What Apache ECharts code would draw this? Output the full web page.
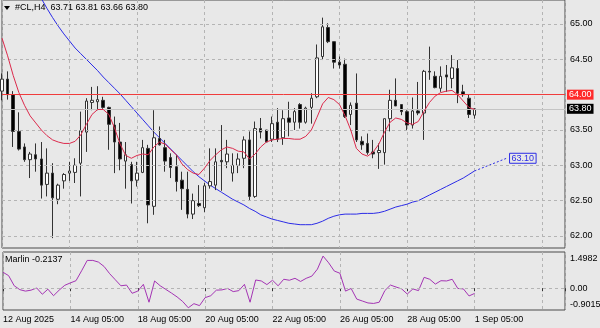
<!DOCTYPE html>
<html>
<head>
<meta charset="utf-8">
<script src="https://cdn.jsdelivr.net/npm/echarts@6/dist/echarts.min.js"></script>
<style>
  html, body { margin: 0; padding: 0; background: #e8e8e8; }
  #chart { width: 600px; height: 328px; }
</style>
</head>
<body>
<div id="chart"></div>
<script>
// #CL H4 candles, bar index 0 = 12 Aug 2025 01:00, last bar = 1 Sep 05:00
const symbol = '#CL,H4';
const opens  = [64.05,64.22,64.00,63.48,63.26,63.08,63.15,63.09,62.73,62.89,62.52,62.78,62.89,62.90,63.03,63.47,63.89,63.90,63.92,63.82,63.57,63.33,63.06,63.01,62.79,62.90,63.24,62.42,63.38,63.25,63.11,62.98,62.79,62.66,62.31,62.46,62.40,62.71,62.72,63.07,63.05,62.89,63.00,63.10,63.36,62.56,63.52,63.50,63.37,63.61,63.39,63.67,63.61,63.86,63.61,63.82,63.97,64.54,64.95,64.75,64.46,64.43,63.72,63.88,63.34,63.31,63.19,63.18,63.18,63.66,63.92,63.86,63.76,63.57,63.77,63.74,64.33,64.26,64.09,64.28,64.23,64.37,64.04,63.95,63.71];
const highs  = [64.30,64.33,64.05,63.75,63.31,63.19,63.31,63.33,63.24,63.03,62.74,62.89,63.05,63.10,63.76,63.95,64.11,64.12,63.97,63.83,63.69,63.60,63.33,63.05,63.05,63.36,63.29,63.78,63.55,63.36,63.17,63.15,62.91,62.91,62.60,62.72,62.75,63.24,63.24,63.57,63.36,63.17,63.17,63.41,63.48,63.62,63.67,63.50,63.69,63.81,63.78,63.90,63.81,63.88,63.83,64.02,64.71,65.09,65.01,64.75,64.54,64.51,63.89,64.30,63.41,63.45,63.36,63.31,63.66,64.07,64.23,63.86,63.78,63.96,64.18,64.35,64.68,64.33,64.40,64.42,64.56,64.49,64.14,64.00,63.81];
const lows   = [63.92,63.93,63.26,63.21,63.05,62.82,62.91,62.53,62.56,61.97,62.45,62.67,62.78,62.75,62.56,63.19,63.78,63.78,63.80,63.22,62.89,62.93,62.67,62.46,62.70,62.89,62.18,62.30,63.28,62.91,62.82,62.63,62.37,62.25,62.24,62.41,62.34,62.67,62.65,62.64,62.96,62.77,62.89,62.96,62.51,62.54,63.38,63.33,63.33,63.33,63.29,63.41,63.50,63.52,63.59,63.59,63.95,64.49,64.73,64.37,64.37,63.67,63.57,63.33,63.22,63.15,63.10,62.95,63.01,63.48,63.84,63.71,63.50,63.52,63.71,63.36,64.21,64.09,64.04,64.04,64.09,63.88,63.97,63.67,63.66];
const closes = [64.22,64.00,63.48,63.23,63.08,63.16,63.09,62.72,62.89,62.54,62.72,62.87,62.92,63.00,63.49,63.91,63.92,63.93,63.82,63.58,63.33,63.09,63.15,62.78,62.89,63.25,62.44,63.39,63.29,63.06,62.97,62.77,62.67,62.31,62.50,62.43,62.71,62.77,63.05,63.05,63.16,63.00,63.09,63.36,62.56,63.52,63.47,63.33,63.59,63.37,63.66,63.61,63.76,63.61,63.81,63.95,64.52,64.96,64.75,64.46,64.42,63.69,63.85,63.36,63.29,63.18,63.16,63.21,63.66,63.92,63.84,63.76,63.57,63.77,63.74,64.33,64.32,64.10,64.26,64.25,64.38,64.02,64.00,63.72,63.80];

// fast moving average (crimson), one value per bar from index 0
const fastMA = [64.80,64.55,64.27,64.03,63.85,63.70,63.60,63.50,63.42,63.36,63.33,63.31,63.31,63.34,63.43,63.58,63.72,63.79,63.79,63.72,63.53,63.30,63.14,63.10,63.14,63.16,63.15,63.26,63.33,63.30,63.22,63.15,63.02,62.94,62.89,62.87,62.96,63.07,63.15,63.22,63.26,63.24,63.20,63.19,63.09,63.16,63.26,63.33,63.36,63.37,63.38,63.38,63.37,63.37,63.41,63.50,63.68,63.87,63.96,63.93,63.86,63.70,63.50,63.24,63.16,63.13,63.19,63.30,63.47,63.61,63.67,63.65,63.60,63.58,63.62,63.76,63.89,63.98,64.03,64.05,64.06,64.00,63.91,63.82,63.79];

// slow moving average (blue), starting at bar index 6
const slowStart = 6;
const slowMA = [65.48,65.36,65.22,65.09,64.97,64.86,64.76,64.66,64.58,64.50,64.42,64.34,64.25,64.17,64.09,64.01,63.92,63.83,63.74,63.65,63.56,63.47,63.39,63.31,63.23,63.15,63.07,62.99,62.91,62.84,62.78,62.72,62.67,62.62,62.57,62.52,62.48,62.44,62.39,62.35,62.30,62.27,62.24,62.22,62.20,62.18,62.17,62.16,62.16,62.16,62.18,62.21,62.25,62.28,62.30,62.31,62.31,62.31,62.32,62.32,62.32,62.33,62.35,62.38,62.41,62.43,62.45,62.48,62.50,62.54,62.58,62.62,62.66,62.70,62.74,62.78,62.82,62.87,62.92];
// projected slow MA
const projIndex = 89.7;
const projValue = 63.10;

// Marlin oscillator, one value per bar
const marlin = [0.66,0.52,0.10,-0.06,-0.12,-0.08,0.01,-0.25,-0.04,-0.31,-0.08,0.12,0.22,0.31,0.72,1.15,1.15,1.08,0.90,0.60,0.35,0.10,0.13,-0.21,-0.12,0.16,-0.58,0.30,0.10,-0.05,-0.20,-0.36,-0.55,-0.81,-0.64,-0.72,-0.39,-0.31,-0.08,-0.07,-0.01,-0.14,-0.10,0.16,-0.58,0.34,0.30,0.15,0.33,0.10,0.37,0.33,0.41,0.28,0.41,0.50,0.79,1.33,1.05,0.71,0.62,-0.12,-0.01,-0.45,-0.53,-0.61,-0.63,-0.58,-0.10,0.13,0.05,-0.03,-0.24,-0.03,-0.10,0.45,0.37,0.17,0.31,0.30,0.37,-0.01,-0.03,-0.32,-0.2137];

// axis ticks
const priceTicks = [62.00, 62.50, 63.00, 63.50, 64.00, 64.50, 65.00];
const levelLine = 64.00;
const marlinMax = 1.4982;
const marlinMin = -0.9015;
const marlinTicks = [marlinMax, 0.00, marlinMin];
const timeTickIndex = [0, 12, 24, 36, 48, 60, 72, 84];
const timeTickText = ['12 Aug 2025', '14 Aug 05:00', '18 Aug 05:00', '20 Aug 05:00', '22 Aug 05:00', '26 Aug 05:00', '28 Aug 05:00', '1 Sep 05:00'];

const FONT = '"Liberation Sans", Arial, sans-serif';
const GRID_COLOR = '#b4b4b4';
const lastBar = opens.length - 1;
const lastClose = closes[lastBar];

const candles = opens.map((o, i) => [i, o, closes[i], lows[i], highs[i]]);
const fastData = fastMA.map((v, i) => [i, v]);
const slowData = slowMA.map((v, k) => [k + slowStart, v]);
const projData = [[lastBar, slowMA[slowMA.length - 1]], [projIndex, projValue]];
const marlinData = marlin.map((v, i) => [i, v]);
const timeLabel = {};
timeTickIndex.forEach((v, k) => { timeLabel[v] = timeTickText[k]; });

const xCommon = {
  type: 'value', min: 0, max: 100.09, interval: 12,
  axisLine: { show: false },
  splitLine: { show: true, lineStyle: { color: GRID_COLOR, type: [3, 3], width: 1 } }
};

const chart = echarts.init(document.getElementById('chart'), null, { renderer: 'canvas' });
chart.setOption({
  animation: false,
  backgroundColor: '#e8e8e8',
  grid: [
    { left: 2, top: 0, width: 563, height: 248, show: true, borderColor: '#4a4a4a', borderWidth: 1, backgroundColor: '#e8e8e8' },
    { left: 2, top: 252, width: 563, height: 58, show: true, borderColor: '#4a4a4a', borderWidth: 1, backgroundColor: '#e8e8e8' }
  ],
  xAxis: [
    Object.assign({}, xCommon, { gridIndex: 0, axisTick: { show: false }, axisLabel: { show: false } }),
    Object.assign({}, xCommon, {
      gridIndex: 1,
      axisTick: { show: true, length: 3, lineStyle: { color: '#333' } },
      axisLabel: {
        show: true, align: 'left', margin: 5, color: '#000', fontSize: 9, fontFamily: FONT,
        formatter: v => timeLabel[Math.round(v)] !== undefined && Math.abs(v - Math.round(v)) < 1e-6 ? timeLabel[Math.round(v)] : ''
      }
    })
  ],
  yAxis: [
    { type: 'value', gridIndex: 0, position: 'right', min: 61.8303, max: 65.3396,
      axisLine: { show: false }, axisTick: { show: false }, axisLabel: { show: false }, splitLine: { show: false } },
    { type: 'value', gridIndex: 1, position: 'right', min: marlinMin, max: marlinMax,
      axisLine: { show: false }, axisTick: { show: false }, axisLabel: { show: false }, splitLine: { show: false } }
  ],
  series: [
    // price grid lines and scale labels
    {
      type: 'line', xAxisIndex: 0, yAxisIndex: 0, data: [[0, priceTicks[0]]], showSymbol: false,
      lineStyle: { opacity: 0 }, silent: true, z: 1,
      markLine: {
        silent: true, symbol: 'none', animation: false,
        lineStyle: { color: GRID_COLOR, type: [3, 3], width: 1 },
        label: { position: 'end', distance: 5, color: '#000', fontSize: 9, fontFamily: FONT,
                 formatter: p => p.value.toFixed(2) },
        data: priceTicks.filter(v => v !== levelLine).map(v => ({ yAxis: v }))
      }
    },
    // horizontal level and last price line
    {
      type: 'line', xAxisIndex: 0, yAxisIndex: 0, data: [[0, levelLine]], showSymbol: false,
      lineStyle: { opacity: 0 }, silent: true, z: 2,
      markLine: {
        silent: true, symbol: 'none', animation: false,
        label: { position: 'end', distance: 2, color: '#fff', fontSize: 9, fontFamily: FONT,
                 padding: [1, 2, 0, 2], lineHeight: 9, formatter: p => p.value.toFixed(2) },
        data: [
          { yAxis: lastClose, lineStyle: { color: '#c4c4c4', type: 'solid', width: 1 },
            label: { backgroundColor: '#000' } },
          { yAxis: levelLine, lineStyle: { color: '#f03c3c', type: 'solid', width: 1 },
            label: { backgroundColor: '#ff2a2a' } }
        ]
      }
    },
    {
      name: 'slow', type: 'line', xAxisIndex: 0, yAxisIndex: 0, data: slowData,
      showSymbol: false, clip: true, lineStyle: { color: '#2b2be6', width: 1 }, z: 3
    },
    {
      name: 'slowProjection', type: 'line', xAxisIndex: 0, yAxisIndex: 0, data: projData,
      showSymbol: false, lineStyle: { color: '#2b2be6', width: 1, type: [2, 2] }, z: 3,
      endLabel: {
        show: true, distance: 3, formatter: () => projValue.toFixed(2),
        color: '#2b2be6', fontSize: 9, fontFamily: FONT,
        borderColor: '#2b2be6', borderWidth: 1, padding: [1, 2, 0, 2], lineHeight: 9
      }
    },
    {
      name: 'candles', type: 'candlestick', xAxisIndex: 0, yAxisIndex: 0, data: candles,
      barWidth: 3, clip: true, z: 4,
      itemStyle: { color: '#ffffff', color0: '#000000', borderColor: '#333333', borderColor0: '#333333', borderWidth: 1 }
    },
    {
      name: 'fast', type: 'line', xAxisIndex: 0, yAxisIndex: 0, data: fastData,
      showSymbol: false, clip: true, lineStyle: { color: '#dc2a4c', width: 1 }, z: 5
    },
    // oscillator zero level
    {
      type: 'line', xAxisIndex: 1, yAxisIndex: 1, data: [[0, 0]], showSymbol: false,
      lineStyle: { opacity: 0 }, silent: true, z: 1,
      markLine: {
        silent: true, symbol: 'none', animation: false,
        lineStyle: { color: GRID_COLOR, type: [3, 3], width: 1 },
        label: { show: false },
        data: [{ yAxis: 0 }]
      }
    },
    {
      name: 'Marlin', type: 'line', xAxisIndex: 1, yAxisIndex: 1, data: marlinData,
      showSymbol: false, lineStyle: { color: '#a434b4', width: 1 }, z: 3
    }
  ]
});

// header, oscillator caption and oscillator scale labels
const scaleX = chart.convertToPixel({ xAxisIndex: 1 }, 100.09) + 5;
const oscLabels = marlinTicks.map((v, k) => {
  const y = chart.convertToPixel({ yAxisIndex: 1 }, v);
  const isTop = k === 0, isBottom = k === marlinTicks.length - 1;
  return {
    type: 'text', x: scaleX, y: isTop ? y + 2 : (isBottom ? y - 1 : y),
    style: { text: v === 0 ? v.toFixed(2) : v.toFixed(4), fill: '#000', font: '9px ' + FONT,
             verticalAlign: isTop ? 'top' : (isBottom ? 'bottom' : 'middle') }
  };
});
chart.setOption({
  graphic: [
    { type: 'polygon', shape: { points: [[4, 6], [10, 6], [7, 10]] }, style: { fill: '#000' } },
    { type: 'text', x: 15, y: 8,
      style: { text: symbol + '  ' + [opens[lastBar], highs[lastBar], lows[lastBar], closes[lastBar]].map(v => v.toFixed(2)).join(' '),
               fill: '#000', font: '9px ' + FONT, verticalAlign: 'middle' } },
    { type: 'text', x: 5, y: 260,
      style: { text: 'Marlin ' + marlin[lastBar].toFixed(4), fill: '#000', font: '9px ' + FONT, verticalAlign: 'middle' } }
  ].concat(oscLabels)
});
</script>
</body>
</html>
